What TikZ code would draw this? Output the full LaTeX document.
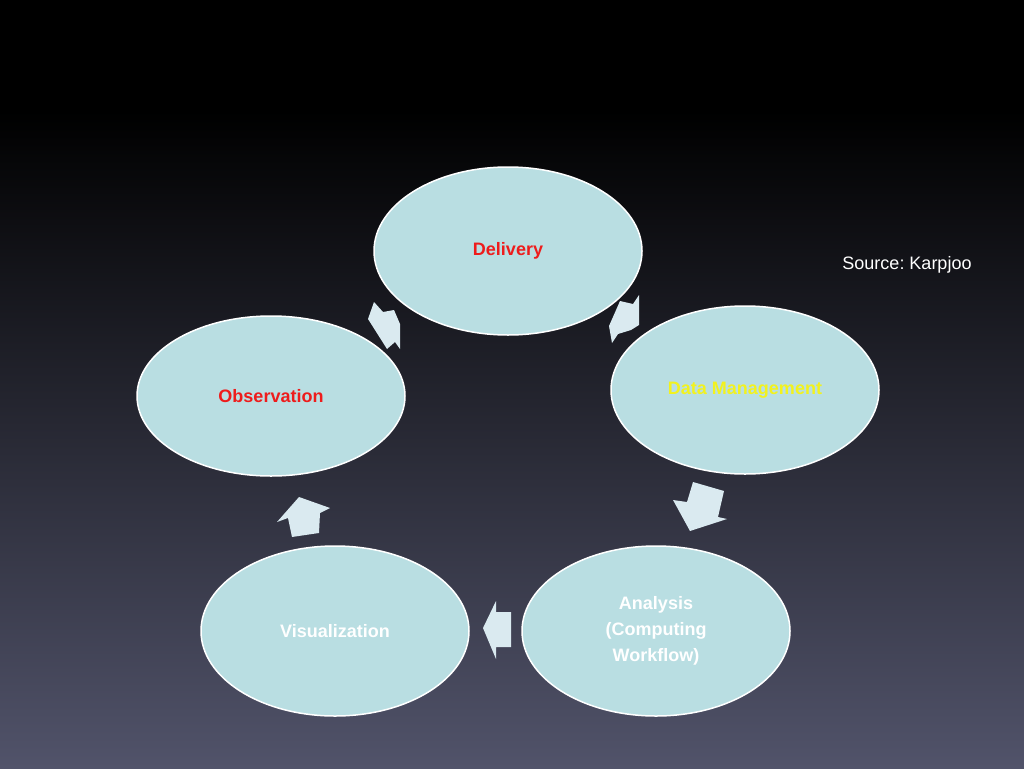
\documentclass[tikz,border=0pt]{standalone}
\usepackage{fontspec}
\setmainfont{Liberation Sans}
\usetikzlibrary{shapes.geometric}
\definecolor{bubblefill}{HTML}{B9DEE2}
\definecolor{arrowfill}{HTML}{DAEAF0}
\definecolor{bgbottom}{HTML}{51536A}
\definecolor{labelred}{HTML}{EE1C1C}
\definecolor{labelyellow}{HTML}{F2F21E}
\frenchspacing
\tikzset{
	bubble/.style={ellipse, draw=white, line width=1.5pt, fill=bubblefill, inner sep=0pt,
		minimum width=268pt, minimum height=168pt, align=center,
		font=\bfseries\fontsize{18}{26}\selectfont},
	blockarrow/.style={fill=arrowfill},
}

\begin{document}
\begin{tikzpicture}[x=1pt, y=-1pt]
			%%%%% BACKGROUND %%%%%
			
			\fill[black] (0, 0) rectangle (1024, 768);
			\shade[top color=black, bottom color=bgbottom] (0, 110) rectangle (1024, 768);
			\useasboundingbox (0, 0) rectangle (1024, 768);
			
			%%%%% CYCLE %%%%%
			
			\node[bubble, text=labelred] (delivery) at (508, 251) {Delivery};
			\node[bubble, text=labelyellow] (datamgmt) at (745, 390) {Data Management};
			\node[bubble, text=white, minimum height=170pt] (analysis) at (656, 631) {Analysis\\(Computing\\Workflow)};
			\node[bubble, text=white, minimum height=170pt] (visual) at (335, 631) {Visualization};
			\node[bubble, text=labelred, minimum height=160pt] (observ) at (271, 396) {Observation};
			
			\node[text=white, font=\fontsize{18}{22}\selectfont] (source) at (907, 265) {Source: Karpjoo};
			
			%%%%% BLOCK ARROWS %%%%%
			
			\fill[blockarrow] (374, 302) -- (383, 312) -- (394, 310) -- (400, 324) -- (400, 349) -- (395, 342) -- (387, 349) -- (368, 319) -- cycle;
			\fill[blockarrow] (620, 301) -- (633, 304) -- (639, 295) -- (639, 325) -- (631, 330) -- (618, 334) -- (612, 343) -- (609, 326) -- cycle;
			\fill[blockarrow] (693, 482) -- (724, 491) -- (718, 517) -- (727, 519) -- (690, 531) -- (673, 500) -- (687, 502) -- cycle;
			\fill[blockarrow] (483, 628) -- (496, 601) -- (496, 612) -- (511, 612) -- (511, 647) -- (496, 647) -- (496, 659) -- cycle;
			\fill[blockarrow] (299, 497) -- (330, 508) -- (320, 513) -- (319, 533) -- (292, 537) -- (288, 518) -- (277, 522) -- cycle;
			
			%%%%% END %%%%%
\end{tikzpicture}
\end{document}
